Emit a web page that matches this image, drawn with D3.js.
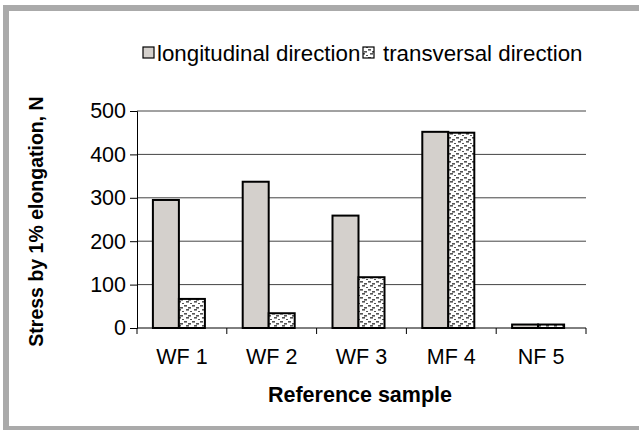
<!DOCTYPE html>
<html>
<head>
<meta charset="utf-8">
<script src="https://cdn.jsdelivr.net/npm/d3@7"></script>
<style>
  html, body { margin: 0; padding: 0; background: #fff; }
  svg { display: block; font-family: "Liberation Sans", Arial, sans-serif; }
</style>
</head>
<body>
<svg id="chart" width="639" height="430"></svg>
<script>
// Reference samples and stress values (N) at 1% elongation
const categories = ["WF 1", "WF 2", "WF 3", "MF 4", "NF 5"];
const seriesNames = ["longitudinal direction", "transversal direction"];
const longitudinal = [295, 337, 259, 452, 8];
const transversal = [67, 34, 117, 450, 8];
const yTicks = [0, 100, 200, 300, 400, 500];

const FONT = "Liberation Sans, Arial, sans-serif";
const svg = d3.select("#chart");

// outer frame
svg.append("rect").attr("x", 3).attr("y", 5).attr("width", 640).attr("height", 6).attr("fill", "#aaaaaa");
svg.append("rect").attr("x", 3).attr("y", 5).attr("width", 6).attr("height", 425).attr("fill", "#aaaaaa");
svg.append("rect").attr("x", 3).attr("y", 426).attr("width", 640).attr("height", 5).attr("fill", "#aaaaaa");

// dash pattern for transversal bars
const defs = svg.append("defs");
const pat = defs.append("pattern")
  .attr("id", "dash")
  .attr("patternUnits", "userSpaceOnUse")
  .attr("width", 8).attr("height", 8);
pat.append("rect").attr("width", 8).attr("height", 8).attr("fill", "#ffffff");
[[0, 1], [4, 3], [2, 5], [6, 7]].forEach(([px, py]) => {
  pat.append("rect").attr("x", px).attr("y", py).attr("width", 3).attr("height", 1.6).attr("fill", "#555");
});

const plotLeft = 137, plotRight = 586, plotTop = 111, plotBottom = 328;

const x = d3.scaleBand().domain(categories).range([plotLeft, plotRight]).paddingInner(0).paddingOuter(0);
const y = d3.scaleLinear().domain([0, 500]).range([plotBottom, plotTop]);
const barW = 26;

// gridlines
svg.append("g").selectAll("line")
  .data(yTicks.filter(t => t > 0))
  .join("line")
  .attr("x1", plotLeft).attr("x2", plotRight)
  .attr("y1", d => y(d)).attr("y2", d => y(d))
  .attr("stroke", "#444").attr("stroke-width", 1);

// y axis
const yAxis = svg.append("g")
  .attr("transform", `translate(${plotLeft},0)`)
  .call(d3.axisLeft(y).tickValues(yTicks).tickSize(7).tickPadding(4).tickFormat(d3.format("d")));
yAxis.select(".domain").attr("stroke", "#000");
yAxis.selectAll(".tick line").attr("stroke", "#000");
yAxis.selectAll("text").attr("font-size", 21.5).attr("fill", "#000").attr("font-family", FONT);

// x axis
const xAxis = svg.append("g")
  .attr("transform", `translate(0,${plotBottom})`)
  .call(d3.axisBottom(x).tickSize(0).tickPadding(21));
xAxis.select(".domain").attr("stroke", "#000").attr("d", `M${plotLeft},0H${plotRight}`);
xAxis.selectAll("text").attr("font-size", 21.5).attr("fill", "#000").attr("font-family", FONT);
// category separator ticks
svg.append("g").selectAll("line")
  .data(categories.map(c => x(c)).concat([plotRight]))
  .join("line")
  .attr("x1", d => d).attr("x2", d => d)
  .attr("y1", plotBottom).attr("y2", plotBottom + 6)
  .attr("stroke", "#000");

// bars
const bars = svg.append("g");
categories.forEach((c, i) => {
  const cx = x(c) + x.bandwidth() / 2 - 3;
  bars.append("rect")
    .attr("x", cx - barW).attr("y", y(longitudinal[i]))
    .attr("width", barW).attr("height", y(0) - y(longitudinal[i]))
    .attr("fill", "#d4d0cc").attr("stroke", "#000").attr("stroke-width", 2);
  bars.append("rect")
    .attr("x", cx).attr("y", y(transversal[i]))
    .attr("width", barW).attr("height", y(0) - y(transversal[i]))
    .attr("fill", "url(#dash)").attr("stroke", "#000").attr("stroke-width", 2);
});

// legend
const legend = svg.append("g").attr("font-size", 22.3).attr("font-family", FONT);
legend.append("rect").attr("x", 143).attr("y", 47).attr("width", 11).attr("height", 11)
  .attr("fill", "#d4d0cc").attr("stroke", "#000").attr("stroke-width", 1.2);
legend.append("text").attr("x", 157).attr("y", 61).text(seriesNames[0]);
legend.append("rect").attr("x", 363).attr("y", 47).attr("width", 11).attr("height", 11)
  .attr("fill", "url(#dash)").attr("stroke", "#000").attr("stroke-width", 1.2);
legend.append("text").attr("x", 383).attr("y", 61).text(seriesNames[1]);

// axis titles
svg.append("text")
  .attr("transform", `translate(43,${(plotTop + plotBottom) / 2 + 2}) rotate(-90)`)
  .attr("text-anchor", "middle").attr("font-size", 19.5).attr("font-weight", "bold")
  .attr("font-family", FONT)
  .text("Stress by 1% elongation, N");
svg.append("text")
  .attr("x", 360).attr("y", 402)
  .attr("text-anchor", "middle").attr("font-size", 21.5).attr("font-weight", "bold")
  .attr("font-family", FONT)
  .text("Reference sample");
</script>
</body>
</html>
